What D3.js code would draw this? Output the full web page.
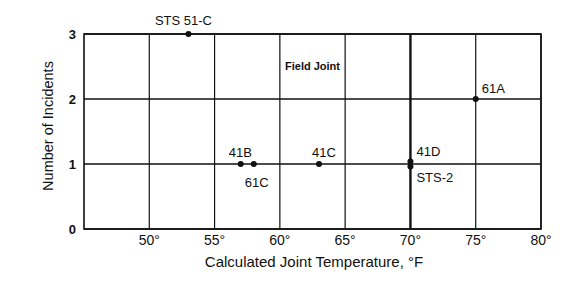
<!DOCTYPE html>
<html>
<head>
<meta charset="utf-8">
<script src="https://cdn.jsdelivr.net/npm/d3@7"></script>
<style>
  body { margin: 0; background: #fff; }
  text { font-family: "Liberation Sans", Arial, Helvetica, sans-serif; fill: #111; }
</style>
</head>
<body>
<script>
// flights with field joint incidents
var flights   = ["STS 51-C", "41B", "61C", "41C", "41D", "STS-2", "61A"];
var temps     = [53, 57, 58, 63, 70, 70, 75];
var incidents = [3, 1, 1, 1, 1, 1, 2];

var xTicks = [50, 55, 60, 65, 70, 75, 80];
var yTicks = [0, 1, 2, 3];

var W = 577, H = 287;
var pLeft = 84, pRight = 541, pTop = 34, pBottom = 229;

var svg = d3.select("body").append("svg")
    .attr("width", W)
    .attr("height", H);

var x = d3.scaleLinear().domain([45, 80]).range([pLeft, pRight]);
var y = d3.scaleLinear().domain([0, 3]).range([pBottom, pTop]);

// grid
var g = svg.append("g");
g.selectAll("line.v")
    .data(xTicks)
    .enter().append("line")
    .attr("x1", x).attr("x2", x)
    .attr("y1", pTop).attr("y2", pBottom)
    .attr("stroke", "#111")
    .attr("stroke-width", function (d) { return d == 70 ? 2.4 : 1.2; });
g.selectAll("line.h")
    .data(yTicks)
    .enter().append("line")
    .attr("x1", pLeft).attr("x2", pRight)
    .attr("y1", y).attr("y2", y)
    .attr("stroke", "#111")
    .attr("stroke-width", 1.6);
g.append("rect")
    .attr("x", pLeft).attr("y", pTop)
    .attr("width", pRight - pLeft).attr("height", pBottom - pTop)
    .attr("fill", "none")
    .attr("stroke", "#111")
    .attr("stroke-width", 1.6);

// tick labels
svg.selectAll("text.xt")
    .data(xTicks)
    .enter().append("text")
    .attr("x", x)
    .attr("y", pBottom + 16)
    .attr("text-anchor", "middle")
    .attr("font-size", 14)
    .text(function (d) { return d + "°"; });
svg.selectAll("text.yt")
    .data(yTicks)
    .enter().append("text")
    .attr("x", pLeft - 8)
    .attr("y", function (d) { return y(d) + 4.5; })
    .attr("text-anchor", "end")
    .attr("font-size", 13)
    .attr("font-weight", "bold")
    .text(function (d) { return d; });

// axis titles
svg.append("text")
    .attr("x", 314)
    .attr("y", 267)
    .attr("text-anchor", "middle")
    .attr("font-size", 15)
    .text("Calculated Joint Temperature, °F");
svg.append("text")
    .attr("transform", "translate(53,126) rotate(-90)")
    .attr("text-anchor", "middle")
    .attr("font-size", 14.5)
    .text("Number of  Incidents");

svg.append("text")
    .attr("x", 285)
    .attr("y", 70)
    .attr("font-size", 11)
    .attr("font-weight", "bold")
    .text("Field Joint");

// points, the two at 70 are nudged so both show
var nudge = [0, 0, 0, 0, -2.5, 2.5, 0];
svg.selectAll("circle")
    .data(temps)
    .enter().append("circle")
    .attr("cx", function (d) { return x(d); })
    .attr("cy", function (d, i) { return y(incidents[i]) + nudge[i]; })
    .attr("r", 3)
    .attr("fill", "#111");

// flight labels
var place = {
    "STS 51-C": [-5, -9, "middle"],
    "41B": [-12, -7, "start"],
    "61C": [-9, 23, "start"],
    "41C": [-7, -7, "start"],
    "41D": [6, -8, "start"],
    "STS-2": [6, 18, "start"],
    "61A": [6, -6, "start"]
};
svg.selectAll("text.lab")
    .data(flights)
    .enter().append("text")
    .attr("x", function (d, i) { return x(temps[i]) + place[d][0]; })
    .attr("y", function (d, i) { return y(incidents[i]) + place[d][1]; })
    .attr("text-anchor", function (d) { return place[d][2]; })
    .attr("font-size", 13)
    .text(function (d) { return d; });
</script>
</body>
</html>
